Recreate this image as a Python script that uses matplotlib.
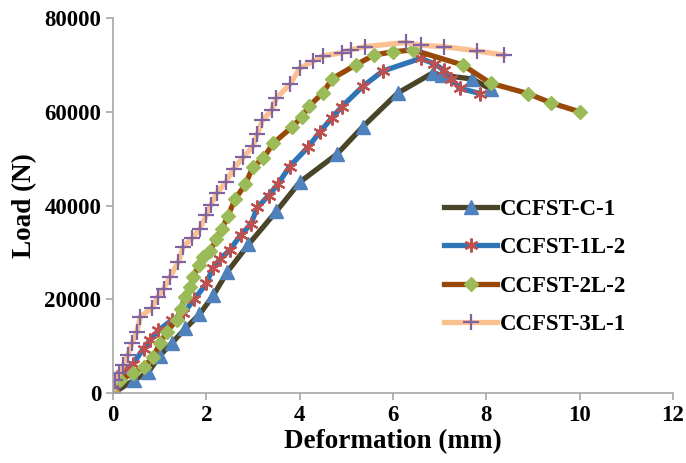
import matplotlib.pyplot as plt

plt.rcParams['font.family'] = ['Liberation Serif', 'DejaVu Serif']
plt.rcParams['font.weight'] = 'bold'

c1_x = [0, 0.45, 0.75, 1.0, 1.25, 1.55, 1.85, 2.15, 2.45, 2.9, 3.5, 4.0, 4.8, 5.35, 6.1, 6.85, 7.05, 7.7, 8.1]
c1_y = [0, 2800, 4400, 8000, 10600, 13800, 16800, 20900, 25900, 31700, 38800, 45000, 51000, 56800, 64000, 68300, 67800, 67000, 64800]

l1_x = [0, 0.08, 0.25, 0.43, 0.65, 0.79, 0.97, 1.25, 1.5, 1.74, 2.0, 2.13, 2.29, 2.5, 2.73, 2.95, 3.09, 3.33, 3.54,
        3.78, 4.18, 4.43, 4.68, 4.9, 5.36, 5.78, 6.59, 6.87, 7.09, 7.25, 7.43, 7.87]
l1_y = [0, 3500, 4900, 6300, 9500, 11300, 13400, 15500, 17000, 20000, 23400, 26600, 28600, 30500, 33700, 36000, 39600,
        42100, 44700, 48300, 52500, 55700, 58600, 61100, 65500, 68700, 71400, 70300, 68900, 67000, 65000, 63900]

l2_x = [0, 0.15, 0.43, 0.65, 0.86, 1.0, 1.15, 1.36, 1.45, 1.54, 1.65, 1.72, 1.83, 1.93, 2.08, 2.21, 2.33, 2.46, 2.61,
        2.83, 3.0, 3.22, 3.43, 3.83, 4.04, 4.2, 4.49, 4.7, 5.2, 5.59, 5.99, 6.43, 7.49, 8.09, 8.89, 9.39, 10.0]
l2_y = [0, 2800, 4200, 5600, 7700, 10600, 13100, 15600, 18000, 20500, 22700, 24800, 27300, 29100, 30300, 32800, 35000,
        37800, 41300, 44500, 48300, 50100, 53300, 56700, 58900, 61200, 64000, 67100, 70000, 72100, 72800, 73200,
        70000, 66100, 63900, 61900, 60000]

l3_x = [0, 0.0, 0.04, 0.13, 0.22, 0.31, 0.4, 0.51, 0.58, 0.83, 0.95, 1.08, 1.22, 1.4, 1.5, 1.69, 1.86, 2.0, 2.09,
        2.22, 2.42, 2.58, 2.79, 3.0, 3.09, 3.2, 3.4, 3.5, 3.8, 4.0, 4.29, 4.49, 4.9, 5.09, 5.4, 6.27, 6.59, 7.09,
        7.79, 8.38]
l3_y = [0, 1000, 2800, 4200, 6000, 8100, 10600, 13100, 16300, 18100, 20500, 22300, 24800, 28000, 31200, 33000, 35100,
        38000, 40100, 42600, 45100, 47900, 50300, 52700, 55200, 58200, 60400, 62900, 66000, 69300, 70800, 71900,
        72600, 73200, 73900, 74800, 74200, 73900, 73000, 72100]

fig = plt.figure(figsize=(6.86, 4.63), dpi=100)
ax = fig.add_axes([0.165, 0.151, 0.816, 0.81])

ax.plot(c1_x, c1_y, color='#4a4529', lw=3.8, marker='^', ms=10, mfc='#4f81bd', mec='#4f81bd', label='CCFST-C-1')
ax.plot(l1_x, l1_y, color='#2e75b6', lw=3.8, marker=(6, 2, 0), ms=10, mfc='#c0504d', mec='#c0504d', mew=1.6,
        label='CCFST-1L-2')
ax.plot(l2_x, l2_y, color='#984807', lw=3.8, marker='D', ms=7.5, mfc='#9bbb59', mec='#9bbb59', label='CCFST-2L-2')
ax.plot(l3_x, l3_y, color='#fac090', lw=3.8, marker='+', ms=11, mfc='#8064a2', mec='#8064a2', mew=1.6,
        label='CCFST-3L-1')

ax.set_xlim(0, 12)
ax.set_ylim(0, 80000)
ax.set_xticks(range(0, 13, 2))
ax.set_yticks(range(0, 80001, 20000))
ax.set_xlabel('Deformation (mm)', fontsize=19.5, fontweight='bold', labelpad=2)
ax.set_ylabel('Load (N)', fontsize=19.5, fontweight='bold', labelpad=5)
ax.tick_params(labelsize=16.5, color='#a6a6a6', length=5, width=1.2)
for s in ['top', 'right']:
    ax.spines[s].set_visible(False)
for s in ['left', 'bottom']:
    ax.spines[s].set_color('#a6a6a6')
    ax.spines[s].set_linewidth(1.2)

ax.legend(loc='upper left', bbox_to_anchor=(0.555, 0.572), frameon=False, fontsize=16.5, handlelength=2.3,
          labelspacing=0.75, handletextpad=0.1)

fig.savefig('out.png')
